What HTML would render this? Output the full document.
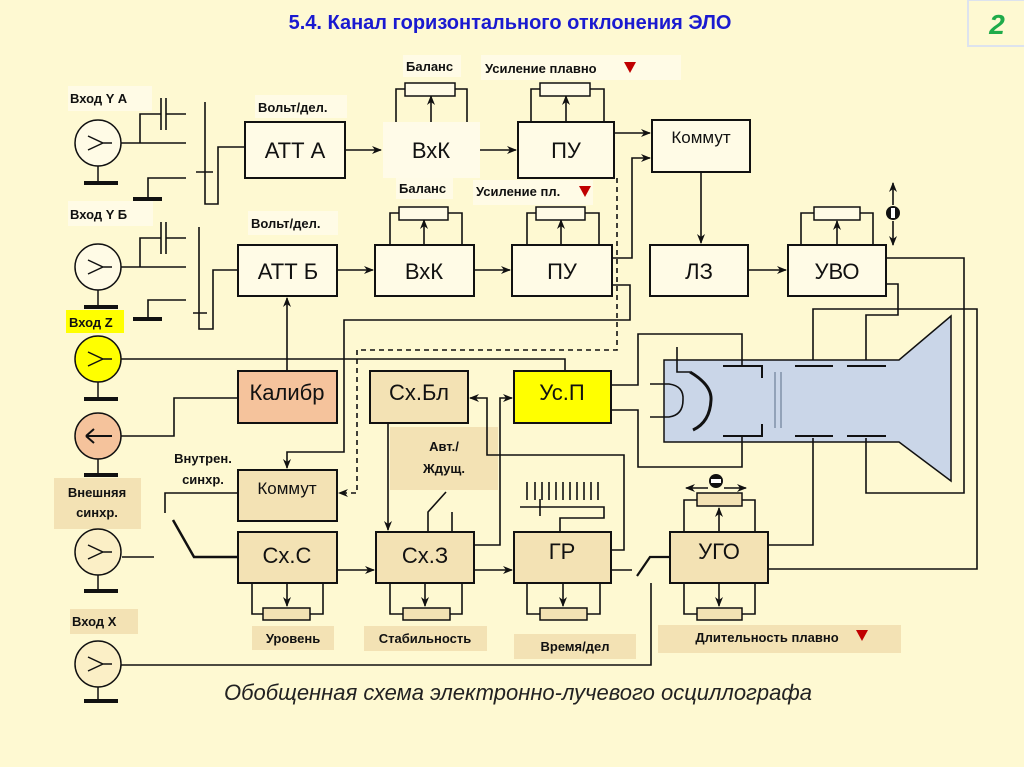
<!DOCTYPE html>
<html><head><meta charset="utf-8"><style>
html,body{margin:0;padding:0;background:#fef9d2;}
svg{display:block;font-family:"Liberation Sans",sans-serif;}
</style></head><body>
<svg width="1024" height="767" viewBox="0 0 1024 767" xmlns="http://www.w3.org/2000/svg">
<defs>
<marker id="a" markerWidth="10" markerHeight="8" refX="9" refY="4" orient="auto" markerUnits="userSpaceOnUse"><path d="M0,0 L10,4 L0,8 L3,4 z" fill="#111"/></marker>
</defs>
<rect width="1024" height="767" fill="#fef9d2"/>
<text x="510" y="29" text-anchor="middle" font-size="20" font-weight="bold" fill="#1a1ad0">5.4.  Канал горизонтального отклонения ЭЛО</text>
<rect x="968" y="0" width="58" height="46" fill="#fef9d2" stroke="#dde3ee" stroke-width="2"/>
<text x="997" y="34" text-anchor="middle" font-size="28" font-weight="bold" font-style="italic" fill="#1fab4a">2</text>

<!-- label backgrounds -->
<g fill="#fffbe6">
<rect x="403" y="55" width="58" height="22"/><rect x="481" y="55" width="200" height="25"/>
<rect x="396" y="177" width="57" height="22"/><rect x="473" y="180" width="120" height="25"/>
<rect x="255" y="95" width="92" height="23"/><rect x="248" y="211" width="90" height="24"/>
<rect x="68" y="86" width="84" height="25"/><rect x="68" y="201" width="85" height="25"/>
</g>
<rect x="66" y="310" width="58" height="23" fill="#ffff00"/>
<g fill="#f3e2b4">
<rect x="54" y="478" width="87" height="51"/><rect x="70" y="609" width="68" height="25"/>
<rect x="390" y="427" width="108" height="63"/>
<rect x="252" y="626" width="82" height="24"/><rect x="364" y="626" width="123" height="25"/>
<rect x="514" y="634" width="122" height="25"/><rect x="658" y="625" width="243" height="28"/>
</g>
<g font-size="13" font-weight="bold" fill="#111">
<text x="406" y="71">Баланс</text><text x="485" y="73">Усиление плавно</text>
<text x="399" y="193">Баланс</text><text x="476" y="196">Усиление пл.</text>
<text x="258" y="112">Вольт/дел.</text><text x="251" y="228">Вольт/дел.</text>
<text x="70" y="103">Вход Y  А</text><text x="70" y="219">Вход Y  Б</text>
<text x="69" y="327">Вход Z</text>
<text x="97" y="497" text-anchor="middle">Внешняя</text><text x="97" y="517" text-anchor="middle">синхр.</text>
<text x="72" y="626">Вход Х</text>
<text x="203" y="463" text-anchor="middle">Внутрен.</text><text x="203" y="484" text-anchor="middle">синхр.</text>
<text x="444" y="451" text-anchor="middle">Авт./</text><text x="444" y="473" text-anchor="middle">Ждущ.</text>
<text x="293" y="643" text-anchor="middle">Уровень</text><text x="425" y="643" text-anchor="middle">Стабильность</text>
<text x="575" y="651" text-anchor="middle">Время/дел</text><text x="767" y="642" text-anchor="middle">Длительность плавно</text>
</g>
<g fill="#c00000">
<path d="M624,62 L636,62 L630,73z"/><path d="M579,186 L591,186 L585,197z"/><path d="M856,630 L868,630 L862,641z"/>
</g>

<!-- CRT -->
<path d="M664,360 L899,360 L951,316 L951,481 L899,442 L664,442 z" fill="#cad6e8" stroke="#111" stroke-width="1.5"/>

<!-- blocks -->
<g stroke="#111" stroke-width="2">
<rect x="245" y="122" width="100" height="56" fill="#fffbe6"/>
<rect x="383" y="122" width="97" height="56" fill="#fffbe8" stroke="none"/>
<rect x="518" y="122" width="96" height="56" fill="#fffbe6"/>
<rect x="652" y="120" width="98" height="52" fill="#fffbe6"/>
<rect x="238" y="245" width="99" height="51" fill="#fffbe6"/>
<rect x="375" y="245" width="99" height="51" fill="#fffbe6"/>
<rect x="512" y="245" width="100" height="51" fill="#fffbe6"/>
<rect x="650" y="245" width="98" height="51" fill="#fffbe6"/>
<rect x="788" y="245" width="98" height="51" fill="#fffbe6"/>
<rect x="238" y="371" width="99" height="52" fill="#f5c39c"/>
<rect x="370" y="371" width="98" height="52" fill="#f3e2b4"/>
<rect x="514" y="371" width="97" height="52" fill="#ffff00"/>
<rect x="238" y="470" width="99" height="51" fill="#f3e2b4"/>
<rect x="238" y="532" width="99" height="51" fill="#f3e2b4"/>
<rect x="376" y="532" width="98" height="51" fill="#f3e2b4"/>
<rect x="514" y="532" width="97" height="51" fill="#f3e2b4"/>
<rect x="670" y="532" width="98" height="51" fill="#f3e2b4"/>
</g>
<g font-size="22" fill="#111" text-anchor="middle">
<text x="295" y="158">АТТ А</text><text x="431" y="158">ВхК</text><text x="566" y="158">ПУ</text>
<text x="288" y="279">АТТ Б</text><text x="424" y="279">ВхК</text><text x="562" y="279">ПУ</text>
<text x="699" y="279">ЛЗ</text><text x="837" y="279">УВО</text>
<text x="287" y="400">Калибр</text><text x="419" y="400">Сх.Бл</text><text x="562" y="400">Ус.П</text>
<text x="287" y="563">Сх.С</text><text x="425" y="563">Сх.З</text><text x="562" y="559">ГР</text><text x="719" y="559">УГО</text>
</g>
<g font-size="17" fill="#111" text-anchor="middle">
<text x="701" y="143">Коммут</text><text x="287" y="494">Коммут</text>
</g>

<!-- inputs -->
<g stroke="#111" stroke-width="1.5" fill="#fffbe6">
<circle cx="98" cy="143" r="23"/><circle cx="98" cy="267" r="23"/>
<circle cx="98" cy="359" r="23" fill="#ffff00"/><circle cx="98" cy="436" r="23" fill="#f5c39c"/>
<circle cx="98" cy="552" r="23" fill="#fbefc6"/><circle cx="98" cy="664" r="23" fill="#fbefc6"/>
</g>
<g stroke="#111" stroke-width="1.5" fill="none">
<path d="M112,143 L103,143 L88,136 M103,143 L88,150"/>
<path d="M112,267 L103,267 L88,260 M103,267 L88,274"/>
<path d="M112,359 L103,359 L88,352 M103,359 L88,366"/>
<path d="M86,436 L112,436 M86,436 L94,429 M86,436 L94,443" stroke-width="2"/>
<path d="M112,552 L103,552 L88,545 M103,552 L88,559"/>
<path d="M112,664 L103,664 L88,657 M103,664 L88,671"/>
<path d="M98,166 V182 M98,290 V306 M98,382 V398 M98,459 V474 M98,575 V590 M98,687 V700"/>
</g>
<g stroke="#111" stroke-width="4">
<path d="M84,183 H118 M84,307 H118 M84,399 H118 M84,475 H118 M84,591 H118 M84,701 H118"/>
<path d="M133,199 H162 M133,319 H162"/>
</g>

<!-- wires -->
<g stroke="#111" stroke-width="1.6" fill="none">
<!-- row1 input -->
<path d="M121,143 H186 M140,143 V114 H161 M166,114 H186 M186,178 H148 V199"/>
<path d="M161,98 V130 M166,98 V130"/>
<path d="M205,102 V204 H218 V147 H245 M196,172 H213"/>
<!-- row2 input -->
<path d="M121,267 H186 M140,267 V238 H161 M166,238 H186 M186,300 H148 V319"/>
<path d="M161,222 V254 M166,222 V254"/>
<path d="M199,227 V329 H213 V270 H238 M193,313 H207"/>
<!-- row arrows -->
<path d="M345,150 H381" marker-end="url(#a)"/><path d="M480,150 H516" marker-end="url(#a)"/>
<path d="M614,133 H650" marker-end="url(#a)"/>
<path d="M612,258 H632 V158 H650" marker-end="url(#a)"/>
<path d="M701,172 V243" marker-end="url(#a)"/>
<path d="M337,270 H373" marker-end="url(#a)"/><path d="M474,270 H510" marker-end="url(#a)"/>
<path d="M748,270 H786" marker-end="url(#a)"/>
<!-- pots top -->
<path d="M396,122 V89 H405 M455,89 H467 V122"/><path d="M431,122 V96" marker-end="url(#a)"/>
<path d="M531,122 V89 H540 M590,89 H604 V122"/><path d="M566,122 V96" marker-end="url(#a)"/>
<path d="M390,245 V213 H399 M448,213 H462 V245"/><path d="M424,245 V220" marker-end="url(#a)"/>
<path d="M527,245 V213 H536 M585,213 H599 V245"/><path d="M561,245 V220" marker-end="url(#a)"/>
<path d="M801,245 V213 H814 M860,213 H873 V245"/><path d="M837,245 V221" marker-end="url(#a)"/>
<!-- calibr etc -->
<path d="M287,371 V298" marker-end="url(#a)"/>
<path d="M238,398 H174 V436 H121"/>
<path d="M121,359 H565 V371"/>
<path d="M612,285 H630 V320 H344 V452 H287 V468" marker-end="url(#a)"/>
<path d="M617,178 V350 H357 V493 H339" stroke-dasharray="5,4" marker-end="url(#a)"/>
<path d="M238,493 H165 V513"/>
<path d="M173,520 L194,557 H238" stroke-width="2.5"/>
<path d="M122,557 H154"/>
<path d="M337,570 H374" marker-end="url(#a)"/><path d="M474,570 H512" marker-end="url(#a)"/>
<path d="M388,423 V530" marker-end="url(#a)"/>
<path d="M474,545 H500 V398 H512" marker-end="url(#a)"/>
<path d="M611,550 H624 V455 H487 V398 H470" marker-end="url(#a)"/>
<path d="M428,532 V512 L446,492 M452,532 V512"/>
<path d="M520,507 H604 V518 H560 V532 M540,499 V516"/>
<path d="M527,482 V500 M535,482 V500 M542,482 V500 M549,482 V500 M556,482 V500 M563,482 V500 M570,482 V500 M577,482 V500 M584,482 V500 M591,482 V500 M598,482 V500"/>
<path d="M611,570 H632"/>
<path d="M637,576 L650,557 H670" stroke-width="2.2"/>
<path d="M651,583 V665 H121"/>
<!-- bottom pots -->
<path d="M252,583 V614 H263 M310,614 H323 V583"/><path d="M287,583 V606" marker-end="url(#a)"/>
<path d="M390,583 V614 H403 M450,614 H462 V583"/><path d="M425,583 V606" marker-end="url(#a)"/>
<path d="M527,583 V614 H540 M587,614 H600 V583"/><path d="M563,583 V606" marker-end="url(#a)"/>
<path d="M684,532 V500 H697 M742,500 H755 V532"/><path d="M719,532 V508" marker-end="url(#a)"/>
<path d="M684,583 V614 H697 M742,614 H755 V583"/><path d="M719,583 V606" marker-end="url(#a)"/>
<!-- CRT wiring -->
<path d="M768,545 H813 V438"/>
<path d="M768,569 H977 V309 H813 V360"/>
<path d="M886,284 H898 V315 H866 V360"/>
<path d="M886,258 H964 V493 H866 V438"/>
<path d="M611,385 H638 V334 H742 V366"/>
<path d="M611,410 H638 V467 H742 V436"/>
<!-- knob arrows -->
<path d="M893,205 V183" marker-end="url(#a)"/><path d="M893,221 V245" marker-end="url(#a)"/>
<path d="M708,488 H686" marker-end="url(#a)"/><path d="M724,488 H746" marker-end="url(#a)"/>
</g>
<!-- pot rects -->
<g stroke="#111" stroke-width="1.5" fill="#fffbe6">
<rect x="405" y="83" width="50" height="13"/><rect x="540" y="83" width="50" height="13"/>
<rect x="399" y="207" width="49" height="13"/><rect x="536" y="207" width="49" height="13"/>
<rect x="814" y="207" width="46" height="13"/>
</g>
<g stroke="#111" stroke-width="1.5" fill="#f3e2b4">
<rect x="263" y="608" width="47" height="12"/><rect x="403" y="608" width="47" height="12"/>
<rect x="540" y="608" width="47" height="12"/>
<rect x="697" y="493" width="45" height="13"/><rect x="697" y="608" width="45" height="12"/>
</g>
<circle cx="893" cy="213" r="7" fill="#111"/><rect x="891" y="208" width="4" height="10" fill="#fff"/>
<circle cx="716" cy="481" r="7" fill="#111"/><rect x="711" y="479" width="10" height="4" fill="#fff"/>
<!-- CRT internals -->
<g stroke="#111" stroke-width="2" fill="none">
<path d="M723,366 H762 V378 M723,436 H762 V424"/>
<path d="M795,366 H833 M847,366 H886 M795,436 H833 M847,436 H886"/>
<path d="M650,384 H669 Q684,386 683,400 Q683,415 669,417 H650" stroke-width="1.6"/>
<path d="M677,347 V372 H690" stroke-width="1.6"/>
<path d="M690,372 Q712,385 711,400 Q710,422 693,430" stroke-width="3"/>
</g>
<path d="M775,372 V428 M781,372 V428" stroke="#8090a8" stroke-width="1.5"/>

<text x="518" y="700" text-anchor="middle" font-size="22" font-style="italic" fill="#222">Обобщенная схема электронно-лучевого осциллографа</text>
</svg>
</body></html>
